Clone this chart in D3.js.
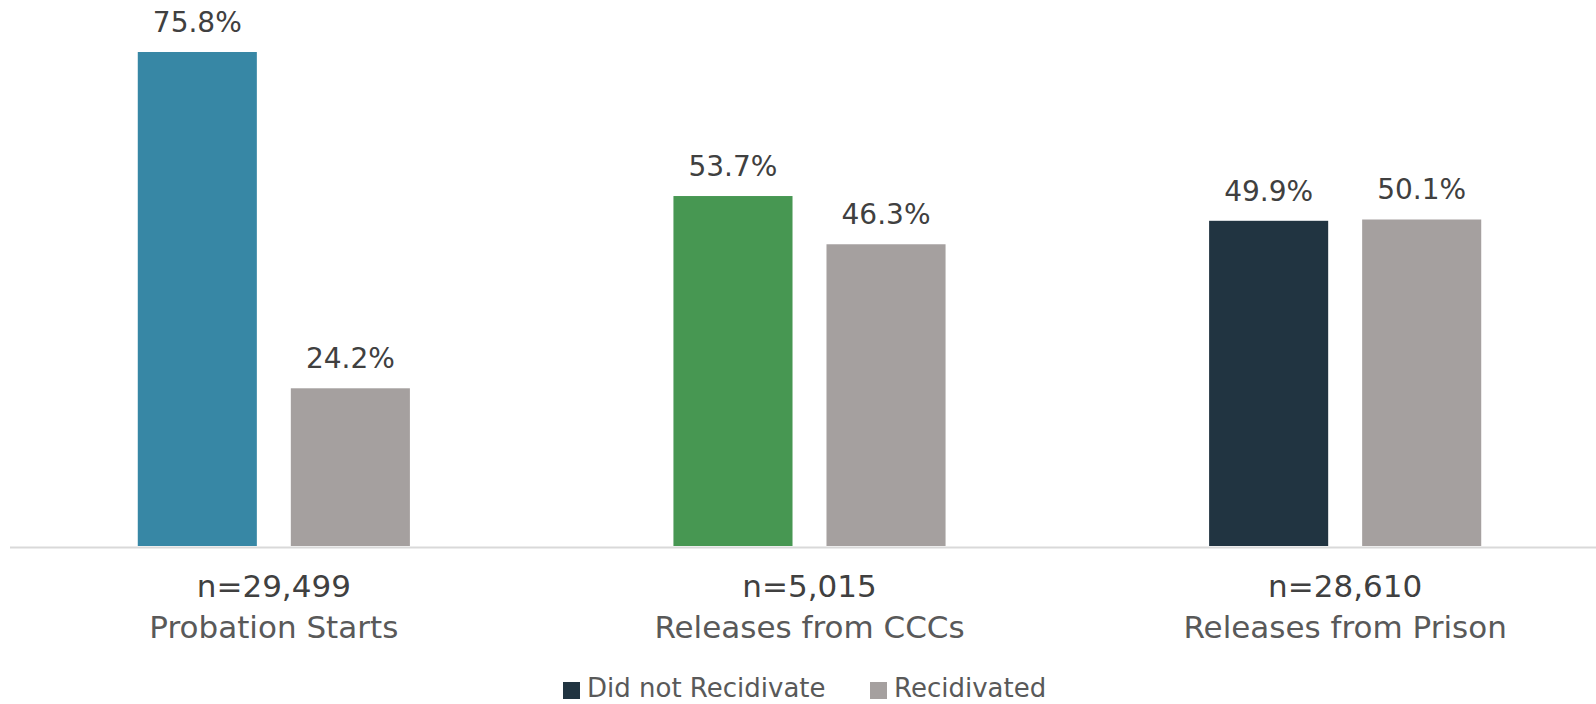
<!DOCTYPE html>
<html>
<head>
<meta charset="utf-8">
<script src="https://cdn.jsdelivr.net/npm/d3@7"></script>
<style>
  body { margin: 0; background: #fff; }
  text { font-family: "DejaVu Sans", sans-serif; }
</style>
</head>
<body>
<div id="chart"></div>
<script>
var width = 1596, height = 704;

// data
var categories = ["Probation Starts", "Releases from CCCs", "Releases from Prison"];
var nLabels = ["n=29,499", "n=5,015", "n=28,610"];
var series = ["Did not Recidivate", "Recidivated"];
var didNot = [75.8, 53.7, 49.9];
var recid = [24.2, 46.3, 50.1];

var firstColors = ["#3787a5", "#479752", "#213441"];
var grey = "#a5a09f";

var baseline = 546;

var svg = d3.select("#chart").append("svg")
  .attr("width", width)
  .attr("height", height);

var x = d3.scaleBand()
  .domain(categories)
  .range([6, 1613]);

var x1 = d3.scaleBand()
  .domain(series)
  .range([0, x.bandwidth()])
  .paddingInner(0.222)
  .paddingOuter(0.861);

var y = d3.scaleLinear()
  .domain([0, 80])
  .range([baseline, baseline - 80 * 6.517]);

var rows = categories.map(function(c, i) {
  return {cat: c, n: nLabels[i], vals: [
    {s: series[0], v: didNot[i], color: firstColors[i]},
    {s: series[1], v: recid[i], color: grey}
  ]};
});

var groups = svg.selectAll("g.group").data(rows)
  .enter().append("g")
  .attr("class", "group")
  .attr("transform", function(d) { return "translate(" + x(d.cat) + ",0)"; });

groups.selectAll("rect").data(function(d) { return d.vals; })
  .enter().append("rect")
  .attr("x", function(d) { return x1(d.s); })
  .attr("y", function(d) { return y(d.v); })
  .attr("width", x1.bandwidth())
  .attr("height", function(d) { return baseline - y(d.v); })
  .attr("fill", function(d) { return d.color; });

groups.selectAll("text.val").data(function(d) { return d.vals; })
  .enter().append("text")
  .attr("class", "val")
  .attr("x", function(d) { return x1(d.s) + x1.bandwidth() / 2; })
  .attr("y", function(d) { return y(d.v) - 20; })
  .attr("text-anchor", "middle")
  .style("font-size", "28px")
  .style("fill", "#404040")
  .text(function(d) { return d.v.toFixed(1) + "%"; });

// axis line
svg.append("line")
  .attr("x1", 10).attr("x2", width)
  .attr("y1", baseline + 1.5).attr("y2", baseline + 1.5)
  .attr("stroke", "#d9d9d9")
  .attr("stroke-width", 2);

// category labels
groups.append("text")
  .attr("x", x.bandwidth() / 2)
  .attr("y", 597)
  .attr("text-anchor", "middle")
  .style("font-size", "31px")
  .style("fill", "#404040")
  .text(function(d) { return d.n; });

groups.append("text")
  .attr("x", x.bandwidth() / 2)
  .attr("y", 638)
  .attr("text-anchor", "middle")
  .style("font-size", "31px")
  .style("fill", "#595959")
  .text(function(d) { return d.cat; });

// legend
var legendX = [563, 870];
var legendColors = [firstColors[2], grey];
var legend = svg.selectAll("g.legend").data(series)
  .enter().append("g")
  .attr("class", "legend")
  .each(function(d, i) {
    var g = d3.select(this);
    g.append("rect")
      .attr("x", legendX[i])
      .attr("y", 682)
      .attr("width", 17)
      .attr("height", 17)
      .attr("fill", legendColors[i]);
    g.append("text")
      .attr("x", legendX[i] + 24)
      .attr("y", 697)
      .style("font-size", "26px")
      .style("fill", "#595959")
      .text(d);
  });
</script>
</body>
</html>
